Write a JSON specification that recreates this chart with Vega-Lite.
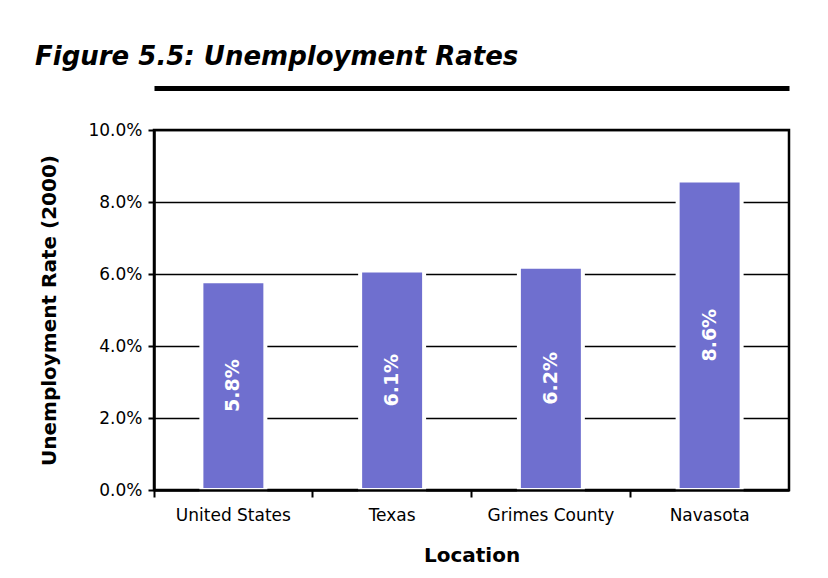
{
  "$schema": "https://vega.github.io/schema/vega-lite/v6.json",
  "width": 635,
  "height": 360,
  "autosize": "none",
  "padding": {"left": 154, "top": 130, "right": 39, "bottom": 88},
  "background": "white",
  "title": {
    "text": "Figure 5.5:  Unemployment Rates",
    "anchor": "start",
    "frame": "group",
    "font": "DejaVu Sans",
    "fontSize": 26,
    "fontWeight": "bold",
    "fontStyle": "italic",
    "color": "black",
    "dx": -119,
    "offset": 18
  },
  "data": {
    "values": [
      {"location": "United States", "rate": 0.058},
      {"location": "Texas", "rate": 0.061},
      {"location": "Grimes County", "rate": 0.062},
      {"location": "Navasota", "rate": 0.086}
    ]
  },
  "config": {
    "view": {"stroke": "black", "strokeWidth": 2.5},
    "axis": {
      "labelFont": "DejaVu Sans",
      "titleFont": "DejaVu Sans",
      "labelColor": "black",
      "titleColor": "black",
      "domainColor": "black",
      "tickColor": "black",
      "gridColor": "black"
    }
  },
  "resolve": {"axis": {"x": "independent"}},
  "layer": [
    {
      "mark": {"type": "bar", "color": "#6f6fcf", "stroke": "white", "strokeWidth": 4, "width": {"band": 0.403}},
      "encoding": {
        "x": {
          "field": "location",
          "type": "nominal",
          "sort": null,
          "scale": {"paddingInner": 0, "paddingOuter": 0},
          "axis": {
            "orient": "bottom",
            "title": "Location",
            "labelAngle": 0,
            "labelFontSize": 17,
            "labelPadding": 10,
            "bandPosition": 0,
            "tickSize": 7,
            "tickWidth": 2,
            "domainWidth": 2.5,
            "titleFontSize": 20,
            "titleFontWeight": "bold",
            "titlePadding": 22,
            "zindex": 1
          }
        },
        "y": {
          "field": "rate",
          "type": "quantitative",
          "scale": {"domain": [0, 0.1]},
          "axis": {
            "title": "Unemployment Rate (2000)",
            "values": [0, 0.02, 0.04, 0.06, 0.08, 0.1],
            "format": ".1%",
            "grid": true,
            "gridWidth": 1.5,
            "gridOpacity": 1,
            "tickSize": 6,
            "tickWidth": 2,
            "domainWidth": 2.5,
            "labelFontSize": 17,
            "labelPadding": 6,
            "titleFontSize": 20,
            "titleFontWeight": "bold",
            "titlePadding": 28
          }
        }
      }
    },
    {
      "transform": [{"calculate": "datum.rate / 2", "as": "labelPos"}],
      "mark": {"type": "text", "angle": 270, "color": "white", "font": "DejaVu Sans", "fontWeight": "bold", "fontSize": 19, "align": "center", "baseline": "middle"},
      "encoding": {
        "x": {
          "field": "location",
          "type": "nominal",
          "sort": null,
          "axis": {
            "orient": "top",
            "offset": 42,
            "domainWidth": 5,
            "labels": false,
            "ticks": false,
            "grid": false,
            "title": null
          }
        },
        "y": {"field": "labelPos", "type": "quantitative"},
        "text": {"field": "rate", "type": "quantitative", "format": ".1%"}
      }
    }
  ]
}
